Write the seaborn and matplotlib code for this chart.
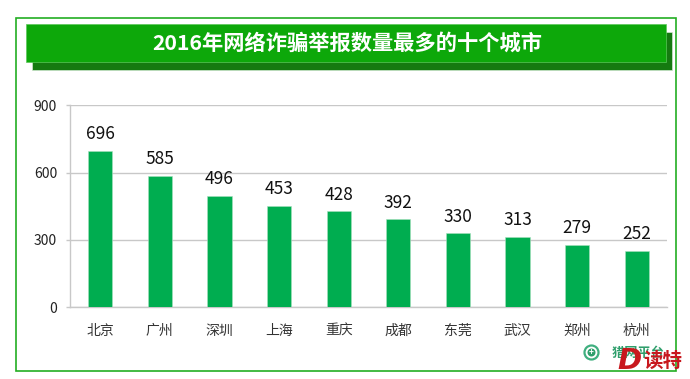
import matplotlib
matplotlib.use('Agg')
import matplotlib.pyplot as plt
from matplotlib.patches import Rectangle, Circle
import seaborn as sns
import pandas as pd

cities = ['北京', '广州', '深圳', '上海', '重庆', '成都', '东莞', '武汉', '郑州', '杭州']
counts = [696, 585, 496, 453, 428, 392, 330, 313, 279, 252]
y_ticks = [0, 300, 600, 900]
title = '2016年网络诈骗举报数量最多的十个城市'

sns.set_theme(style='white')
plt.rcParams['font.family'] = ['Noto Sans CJK SC', 'DejaVu Sans']

W, H = 690, 379
fig = plt.figure(figsize=(W / 100, H / 100), dpi=100, facecolor='white')

# pixel canvas for the frame and the banner
bg = fig.add_axes([0, 0, 1, 1], zorder=0)
bg.set_xlim(0, W)
bg.set_ylim(H, 0)
bg.axis('off')
bg.add_patch(Rectangle((15.7, 17.7), 660.3, 353.3, fc='white', ec='#22AE22', lw=1.2))
bg.add_patch(Rectangle((32.3, 32), 639.4, 38, fc='#157A10', ec='#CFE8CF', lw=0.5))
bg.add_patch(Rectangle((26.3, 24.3), 639.4, 37.7, fc='#0DA80A', ec='#5CC85A', lw=0.5))
bg.text(347, 43, title, color='white', fontsize=15.3, fontweight='bold', ha='center', va='center')

# chart
left, right, top, bottom = 70.3, 666.7, 105.3, 307.3
ax = fig.add_axes([left / W, 1 - bottom / H, (right - left) / W, (bottom - top) / H], zorder=1)
ax.patch.set_alpha(0)
df = pd.DataFrame({'city': cities, 'count': counts})
sns.barplot(data=df, x='city', y='count', color='#00AD50', saturation=1, width=0.408,
            edgecolor='#A8E0BE', linewidth=0.4, zorder=3, ax=ax)
ax.set_xlim(-0.5, len(cities) - 0.5)
ax.set_ylim(0, 900)
ax.set_yticks(y_ticks)
ax.set_xlabel('')
ax.set_ylabel('')
ax.yaxis.grid(True, color='#C8C8C8', lw=1)
ax.set_axisbelow(True)
for name in ['top', 'right']:
    ax.spines[name].set_visible(False)
for name in ['left', 'bottom']:
    ax.spines[name].set_color('#C8C8C8')
    ax.spines[name].set_linewidth(1)
ax.tick_params(axis='y', left=True, length=3, width=1, color='#C8C8C8', labelsize=10, labelcolor='#222222', pad=6.5)
ax.tick_params(axis='x', bottom=False, labelsize=10, labelcolor='#333333', pad=6)
ax.bar_label(ax.containers[0], labels=[str(c) for c in counts], fontsize=12.5, color='#111111', padding=5.5)

# watermark on top of everything
fg = fig.add_axes([0, 0, 1, 1], zorder=2)
fg.set_xlim(0, W)
fg.set_ylim(H, 0)
fg.axis('off')
fg.add_patch(Circle((591.5, 352.5), 7, fc='none', ec='#3FAF7F', lw=1.6))
fg.add_patch(Circle((591.5, 352.5), 4, fc='#2E9E6B', ec='none'))
fg.text(591.5, 352, '+', color='white', fontsize=6, fontweight='bold', ha='center', va='center')
fg.text(612, 353, '猎网平台', color='#2E9E6B', fontsize=9.5, fontweight='bold', ha='left', va='center')
fg.text(629, 361, 'D', color='#C8181E', fontsize=21, fontweight='bold', style='italic',
        family='DejaVu Sans', ha='center', va='center')
fg.text(663, 361, '读特', color='#C8181E', fontsize=14, fontweight='bold', ha='center', va='center')

fig.savefig('out.png', dpi=100)
